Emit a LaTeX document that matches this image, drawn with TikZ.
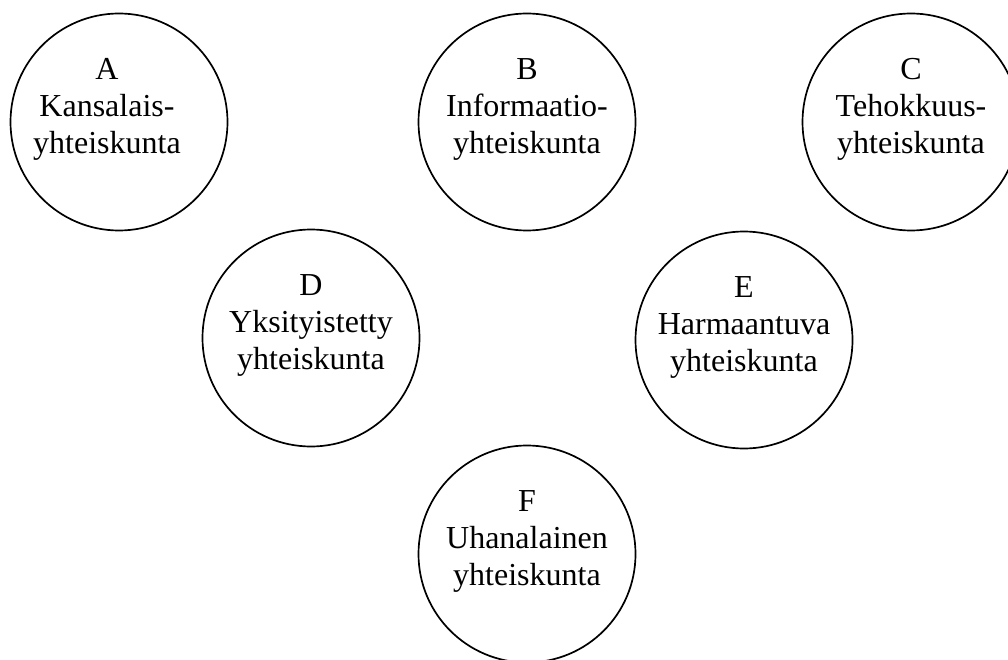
\documentclass[tikz,border=0pt]{standalone}
\usepackage{fontspec}
\setmainfont{Liberation Serif}
\begin{document}
\begin{tikzpicture}[x=1pt,y=-1pt,
  ring/.style={draw=black,line width=1.7pt,circle,minimum size=217pt,inner sep=0pt},
  lbl/.style={anchor=north,align=center,inner sep=0pt,font=\fontsize{32}{37}\selectfont}]
\clip (0,0) rectangle (1008,660);
\useasboundingbox (0,0) rectangle (1008,660);
\node[ring] (A) at (119,122) {};
\node[ring] (B) at (527,122) {};
\node[ring] (C) at (911,122) {};
\node[ring] (D) at (311,338) {};
\node[ring] (E) at (744,340) {};
\node[ring] (F) at (527,554) {};
\node[lbl] (tA) at ([xshift=-12pt,yshift=69pt]A.center) {\strut A\\Kansalais-\\yhteiskunta};
\node[lbl] (tB) at ([yshift=69pt]B.center) {\strut B\\Informaatio-\\yhteiskunta};
\node[lbl] (tC) at ([yshift=69pt]C.center) {\strut C\\Tehokkuus-\\yhteiskunta};
\node[lbl] (tD) at ([yshift=69pt]D.center) {\strut D\\Yksityistetty\\yhteiskunta};
\node[lbl] (tE) at ([yshift=69pt]E.center) {\strut E\\Harmaantuva\\yhteiskunta};
\node[lbl] (tF) at ([yshift=69pt]F.center) {\strut F\\Uhanalainen\\yhteiskunta};
\end{tikzpicture}
\end{document}
